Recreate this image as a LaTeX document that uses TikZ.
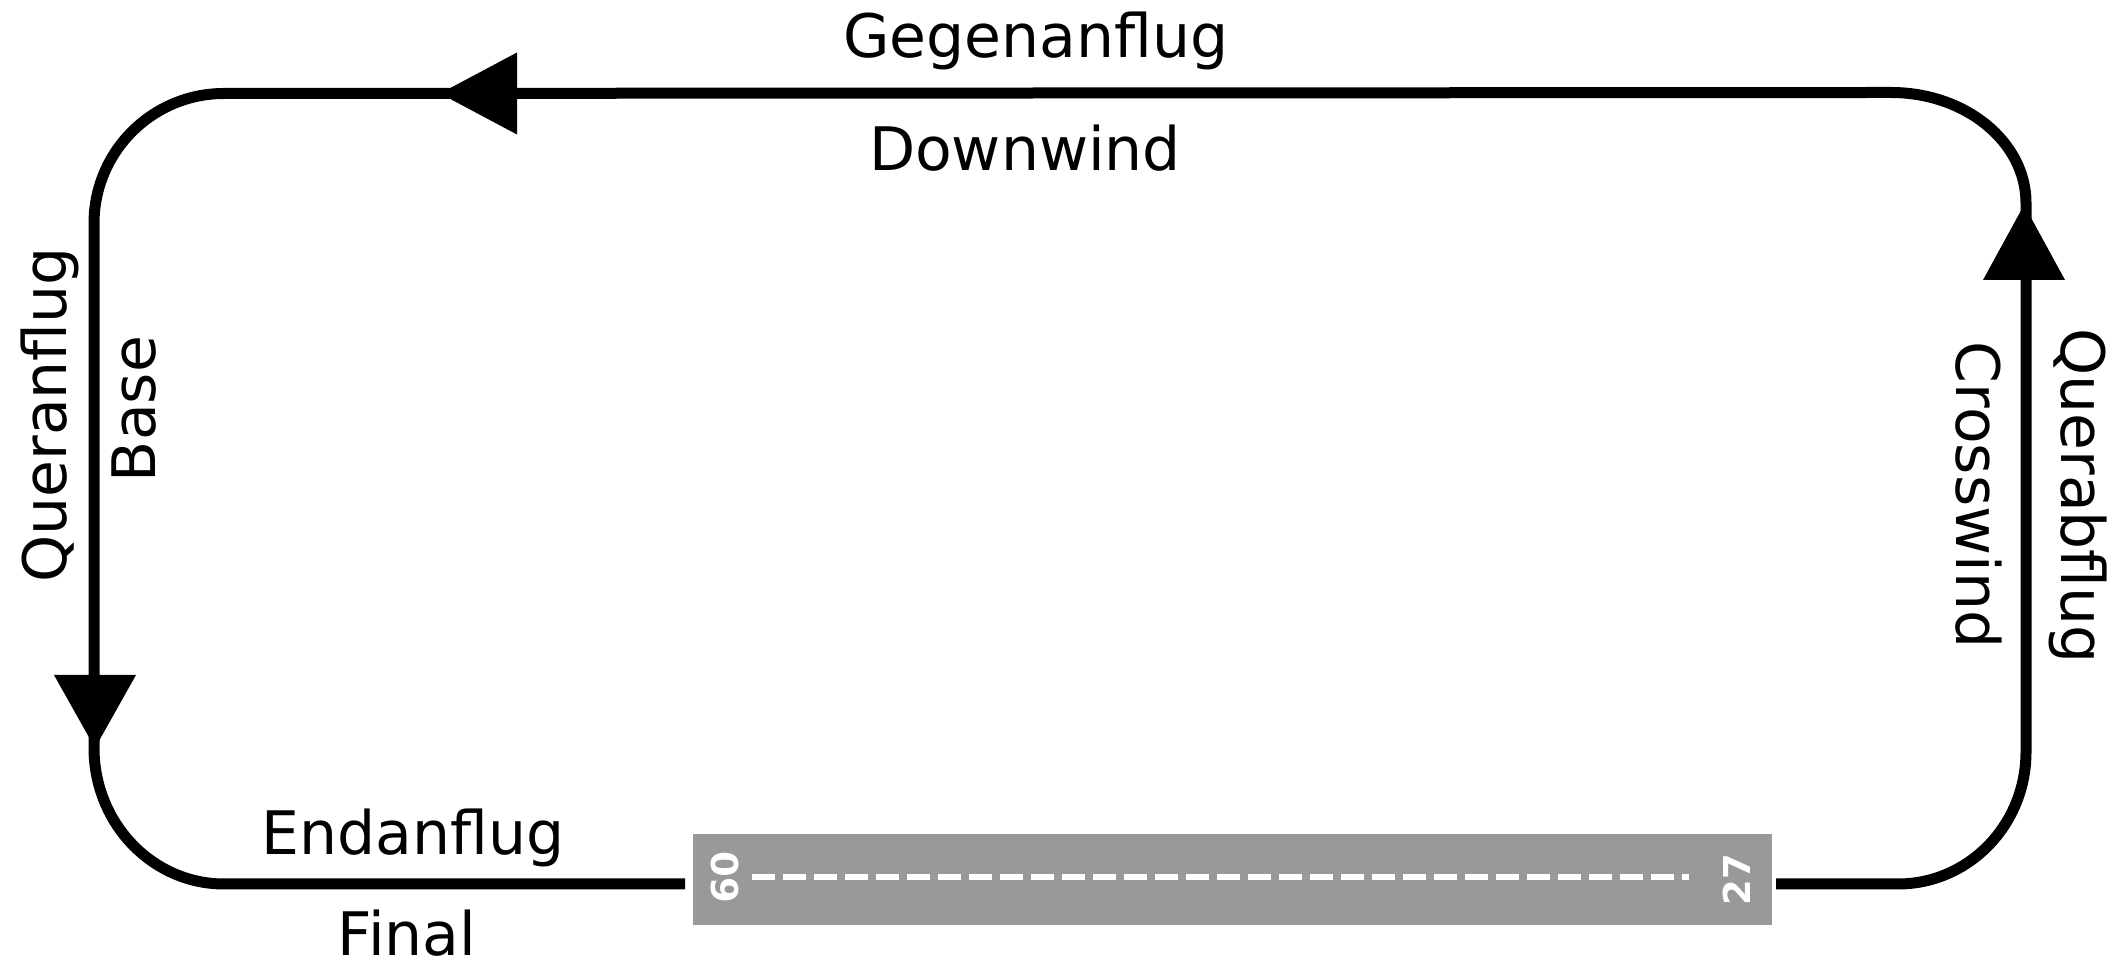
\documentclass[tikz,border=0pt]{standalone}
\usepackage{fontspec}
\setmainfont{DejaVu Sans}
\definecolor{runwaygray}{RGB}{153,153,153}
\begin{document}
\begin{tikzpicture}[x=1pt,y=1pt,
  pattern/.style={line width=11pt,draw=black},
  arrowhead/.style={fill=black,draw=none},
  leglabel/.style={inner sep=0pt,font=\fontsize{60}{72}\selectfont},
  rwnum/.style={inner sep=0pt,text=white,font=\fontsize{37}{44}\selectfont\bfseries},
  centreline/.style={draw=white,line width=6pt,dash pattern=on 23pt off 8pt}]
\useasboundingbox (0,0) rectangle (2126,960);
% traffic pattern
\coordinate (rwR) at (1776,76);
\coordinate (rwL) at (685,76);
\draw[pattern] (rwR) -- (1898,76)
  arc[start angle=-90,end angle=0,x radius=128,y radius=132]
  -- (2026,757)
  arc[start angle=0,end angle=90,x radius=135,y radius=110.5]
  -- (224,866.5)
  arc[start angle=90,end angle=180,x radius=130,y radius=130]
  -- (94,212)
  arc[start angle=180,end angle=270,x radius=130,y radius=136]
  -- (rwL);
% arrowheads
\coordinate (tipTop) at (440,866.5);
\coordinate (tipLeft) at (95,212);
\coordinate (tipRight) at (2024,755);
\fill[arrowhead] (tipTop) -- (517,907.5) -- (517,825.5) -- cycle;
\fill[arrowhead] (tipLeft) -- (54,285) -- (136,285) -- cycle;
\fill[arrowhead] (tipRight) -- (1983,680) -- (2065,680) -- cycle;
% runway
\node[fill=runwaygray,minimum width=1079pt,minimum height=91pt,inner sep=0pt] (runway) at (1232.5,80.5) {};
\coordinate (clS) at (752,83);
\coordinate (clE) at (1689,83);
\draw[centreline] (clS) -- (clE);
\node[rwnum,rotate=-90] (n09) at (725,83) {09};
\node[rwnum,rotate=90] (n27) at (1737,80) {27};
% labels
\node[leglabel] (gegen) at (1036,919) {Gegenanflug};
\node[leglabel] (down) at (1025,812) {Downwind};
\node[leglabel] (endan) at (413,122) {Endanflug};
\node[leglabel] (final) at (407,27) {Final};
\node[leglabel,rotate=90] (queran) at (50,545) {Queranflug};
\node[leglabel,rotate=90] (base) at (134,551) {Base};
\node[leglabel,rotate=-90] (cross) at (1979,465) {Crosswind};
\node[leglabel,rotate=-90] (querab) at (2078,464) {Querabflug};
\end{tikzpicture}
\end{document}
